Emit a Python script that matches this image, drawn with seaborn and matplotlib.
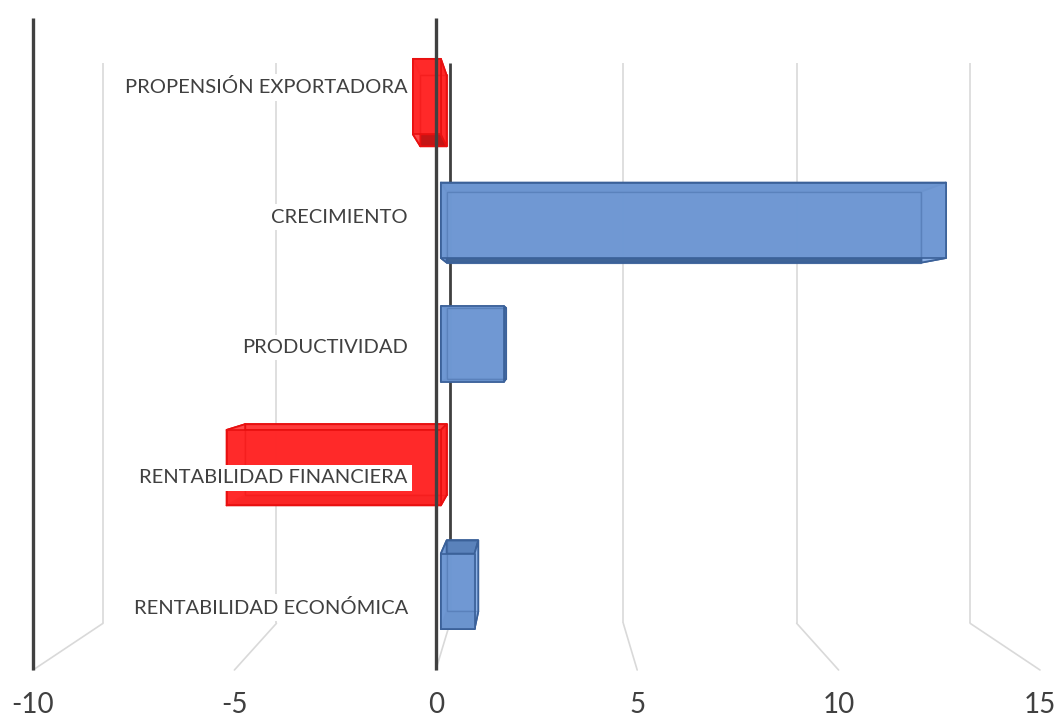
import numpy as np
import pandas as pd
import seaborn as sns
import matplotlib
matplotlib.use("Agg")
import matplotlib.pyplot as plt
from matplotlib.patches import Polygon

# ---- data -------------------------------------------------------------
categories = [
    "PROPENSIÓN EXPORTADORA",
    "CRECIMIENTO",
    "PRODUCTIVIDAD",
    "RENTABILIDAD FINANCIERA",
    "RENTABILIDAD ECONÓMICA",
]
values = [-0.73, 13.2, 1.65, -5.6, 0.88]
xticks = [-10, -5, 0, 5, 10, 15]
xtick_labels = ["-10", "-5", "0", "5", "10", "15"]

# ---- styling ----------------------------------------------------------
sns.set_theme(style="white")
plt.rcParams["font.family"] = ["Lato", "DejaVu Sans"]

W, H = 1057, 722
fig = plt.figure(figsize=(W / 100, H / 100), dpi=100)
fig.patch.set_facecolor("white")
ax = fig.add_axes([33 / W, 1 - 670 / H, (1040 - 33) / W, (670 - 19) / H])

df = pd.DataFrame({
    "categoria": categories,
    "valor": values,
    "signo": ["neg" if v < 0 else "pos" for v in values],
})
sns.barplot(data=df, x="valor", y="categoria", hue="signo",
            palette={"pos": "#7099d3", "neg": "#ff2b2b"},
            width=0.61, dodge=False, legend=False, ax=ax)
ax.set_xlim(-10, 15)
ax.set_ylim(4.5, -0.5)
for s in ax.spines.values():
    s.set_visible(False)
ax.set_xlabel("")
ax.set_ylabel("")
ax.set_yticks([])
ax.set_xticks(xticks)
ax.set_xticklabels(xtick_labels, fontsize=20, color="#404040")
ax.tick_params(axis="x", length=0, pad=16)
ax.patch.set_alpha(0)

# ---- perspective helpers (vanishing point in display pixels) ----------
VP = np.array([537.0, H - 334.0])
R_WALL, R_FRONT, R_BACK = 0.861, 0.95, 0.893


def project(pts, r):
    disp = ax.transData.transform(np.asarray(pts, float))
    disp = VP + r * (disp - VP)
    return ax.transData.inverted().transform(disp)


GRID = "#d9d9d9"
DARK = "#404040"
ytop, ybot = -0.5, 4.5

# back wall + floor grid lines
for v in xticks:
    wall = project([(v, ytop), (v, ybot)], R_WALL)
    floor_front = np.array([v, ybot])
    col = DARK if v == 0 else GRID
    lw = 2.0 if v == 0 else 1.2
    ax.plot(wall[:, 0], wall[:, 1], color=col, lw=lw, zorder=1,
            solid_capstyle="butt", clip_on=False)
    ax.plot([wall[1, 0], floor_front[0]], [wall[1, 1], floor_front[1]],
            color=GRID, lw=1.2, zorder=1, clip_on=False)

# ---- 3D boxes built from the seaborn bars -----------------------------
styles = {
    "pos": dict(front="#6f98d3", top="#5a82bb", bottom="#3f6497",
                end="#8cb1e6", edge="#3b6199"),
    "neg": dict(front="#ff2828", top="#ff3c3c", bottom="#c41515",
                end="#ff4a4a", edge="#e81010"),
}

bars = [p for p in ax.patches if p.get_height() > 0]
for p in bars:
    x0 = min(p.get_x(), p.get_x() + p.get_width())
    x1 = max(p.get_x(), p.get_x() + p.get_width())
    ya = p.get_y()
    yb = p.get_y() + p.get_height()
    yt, yl = min(ya, yb), max(ya, yb)  # top (screen) / bottom (screen)
    val = x1 if x1 > 0 else x0
    st = styles["neg" if val < 0 else "pos"]
    p.set_visible(False)

    rect = [(x0, yt), (x1, yt), (x1, yl), (x0, yl)]
    F = project(rect, R_FRONT)
    B = project(rect, R_BACK)

    def face(pts, color, z, alpha=1.0):
        ax.add_patch(Polygon(pts, closed=True, facecolor=color,
                             edgecolor=st["edge"], lw=1.3, alpha=alpha,
                             zorder=z, clip_on=False, joinstyle="round"))

    face(B, st["front"], 2, 0.9)
    face([F[0], F[1], B[1], B[0]], st["top"], 3)      # top
    face([F[3], F[2], B[2], B[3]], st["bottom"], 3)   # bottom
    face([F[0], F[3], B[3], B[0]], st["end"] if val < 0 else st["front"], 3)
    face([F[1], F[2], B[2], B[1]], st["end"] if val > 0 else st["front"], 3)
    face(F, st["front"], 4, 0.93)
    # hidden edges faintly visible through the translucent box
    ax.add_patch(Polygon(B, closed=True, fill=False, edgecolor=st["edge"],
                         lw=1.0, alpha=0.35, zorder=5, clip_on=False))

# front dark axis lines (value zero and left wall edge)
for v in (-10, 0):
    ax.plot([v, v], [ytop - 0.005, ybot], color=DARK, lw=2.4, zorder=6,
            solid_capstyle="butt", clip_on=False)

# category labels next to the zero line
for i, name in enumerate(categories):
    ax.annotate(name, xy=(0, i), xytext=(-28, -3), textcoords="offset pixels",
                ha="right", va="center", fontsize=14.5, color="#404040",
                zorder=7,
                bbox=dict(boxstyle="square,pad=0.22", fc="white", ec="none"))

fig.savefig("out.png", dpi=100, facecolor="white")
